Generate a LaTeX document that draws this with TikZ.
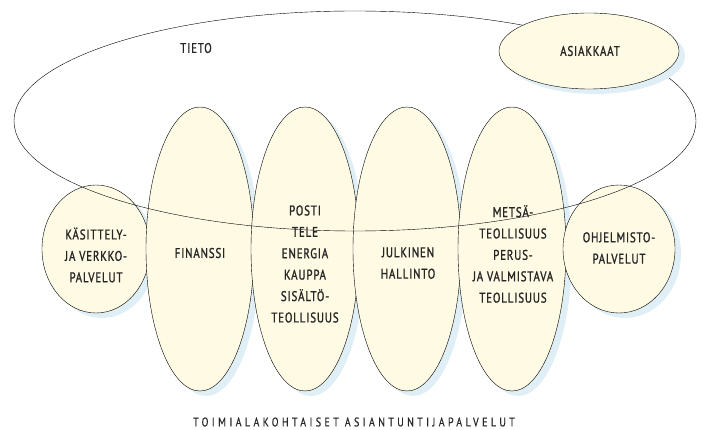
\documentclass[tikz,border=0pt]{standalone}
\usepackage{fontspec}
\newfontfamily\lblfont[FakeStretch=0.78,LetterSpace=6,FakeBold=1.2]{PT Sans}
\newfontfamily\basefont[FakeStretch=0.8,LetterSpace=27,FakeBold=0.6]{PT Sans}
\usetikzlibrary{shapes.geometric}
\definecolor{eggshell}{RGB}{255,250,228}
\definecolor{shadowblue}{RGB}{224,238,246}
\tikzstyle{sector}=[ellipse, draw, thin, fill=eggshell, inner sep=0pt, preaction={draw=none, fill=shadowblue, transform canvas={xshift=6pt, yshift=-5pt}}]
\tikzstyle{tall}=[sector, minimum width=108pt, minimum height=284pt]
\tikzstyle{round}=[sector, minimum width=108pt, minimum height=128pt]
\tikzstyle{txt}=[font=\lblfont\fontsize{14}{21.4}\selectfont, align=center, text=black!85, inner sep=0pt]

\begin{document}
\begin{tikzpicture}[x=1pt,y=-1pt]
  \useasboundingbox (0,0) rectangle (703,430);
  \node[round] (kasittely) at (96,249) {};
  \node[tall] (finanssi) at (200,249) {};
  \node[tall] (posti) at (305,249) {};
  \node[tall] (julkinen) at (407,249) {};
  \node[tall] (metsa) at (512,249) {};
  \node[round, minimum width=112pt] (ohjelmisto) at (619,249) {};

  \node[ellipse, draw, thin, inner sep=0pt, minimum width=682pt, minimum height=220pt] (tieto) at (355,121) {};
  \node[sector, minimum width=180pt, minimum height=76pt] (asiakkaat) at (589,51) {};

  \node[txt] (tietolbl) at (196,48) {TIETO};
  \node[txt] (asiakkaatlbl) at (590,51) {ASIAKKAAT};
  \node[txt] (kasittelylbl) at (96,255) {KÄSITTELY-\\JA VERKKO-\\PALVELUT};
  \node[txt] (finanssilbl) at (200,253) {FINANSSI};
  \node[txt] (postilbl) at (305,264) {POSTI\\TELE\\ENERGIA\\KAUPPA\\SISÄLTÖ-\\TEOLLISUUS};
  \node[txt] (julkinenlbl) at (408,263) {JULKINEN\\HALLINTO};
  \node[txt] (metsalbl) at (513,254) {METSÄ-\\TEOLLISUUS\\PERUS-\\JA VALMISTAVA\\TEOLLISUUS};
  \node[txt] (ohjelmistolbl) at (619,248) {OHJELMISTO-\\PALVELUT};
  \node[txt, font=\basefont\fontsize{12.5}{15}\selectfont] (toimiala) at (354,422) {TOIMIALAKOHTAISET ASIANTUNTIJAPALVELUT};
\end{tikzpicture}
\end{document}
